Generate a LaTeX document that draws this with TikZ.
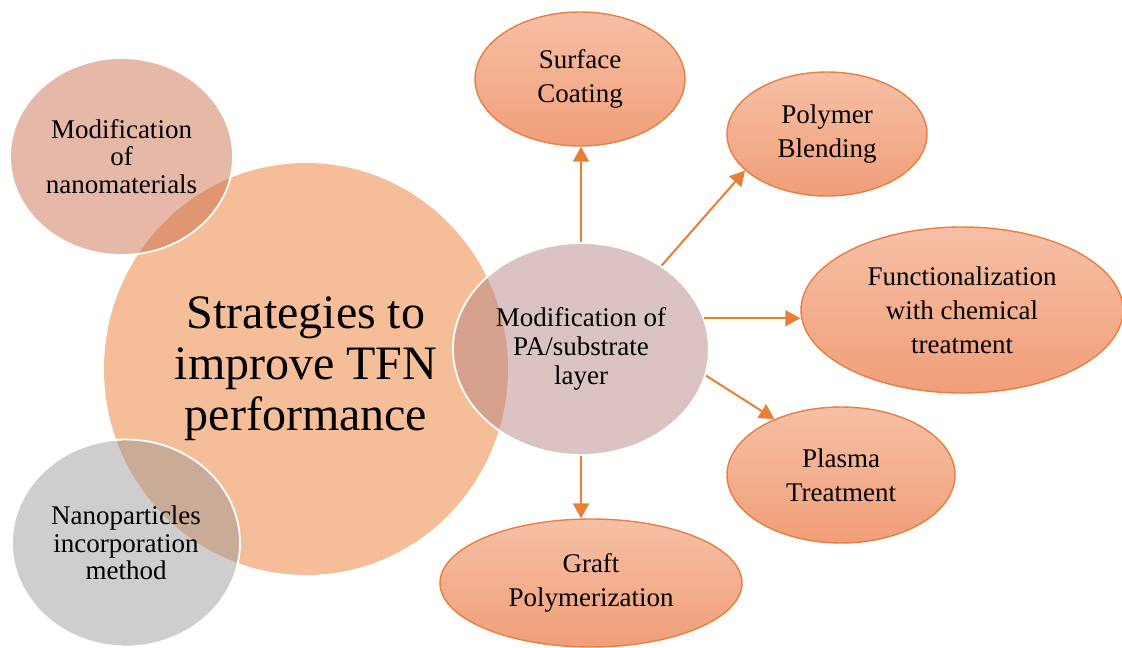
\documentclass[tikz,border=0pt]{standalone}
\usepackage{fontspec}
\setmainfont{Liberation Serif}
\usetikzlibrary{shapes.geometric,arrows.meta}

\definecolor{hubfill}{RGB}{245,190,152}
\definecolor{nanomod}{RGB}{203,107,74}
\definecolor{nanoinc}{RGB}{155,151,151}
\definecolor{layermod}{RGB}{179,131,129}
\definecolor{ovaltop}{RGB}{246,192,166}
\definecolor{ovalbot}{RGB}{241,158,120}
\definecolor{ovalline}{RGB}{232,126,64}
\definecolor{arrowor}{RGB}{234,126,52}

\begin{document}
\begin{tikzpicture}[x=1pt,y=-1pt,
  blob/.style={ellipse, inner sep=0pt, align=center,
    font=\fontsize{27}{27.5}\selectfont},
  bubble/.style={blob, fill opacity=0.48, text opacity=1,
    draw=white, draw opacity=1, line width=1.8pt},
  oval/.style={blob, draw=ovalline, line width=1.4pt,
    top color=ovaltop, bottom color=ovalbot,
    font=\fontsize{27}{34}\selectfont},
  arr/.style={draw=arrowor, line width=2pt,
    -{Triangle[length=15pt,width=16pt]}}]

\useasboundingbox (0,0) rectangle (1122,648);
\fill[white] (0,0) rectangle (1122,648);

% central theme
\node[blob, fill=hubfill, minimum width=404pt, minimum height=412pt,
  font=\fontsize{48}{51}\selectfont] (hub) at (306,369)
  {Strategies to\\improve TFN\\performance};

% the three strategies, laid over the centre
\node[bubble, fill=nanomod, minimum width=223pt, minimum height=197pt]
  (nm) at (121.5,156.5) {Modification\\of\\nanomaterials};
\node[bubble, fill=nanoinc, minimum width=228pt, minimum height=207pt]
  (ni) at (126,543) {Nanoparticles\\incorporation\\method};
\node[bubble, fill=layermod, minimum width=256pt, minimum height=212pt,
  font=\fontsize{27}{29}\selectfont]
  (pa) at (581,349) {Modification of\\PA/substrate\\layer};

% modification routes
\node[oval, minimum width=210pt, minimum height=134pt] (sc) at (580,79)
  {Surface\\Coating};
\node[oval, minimum width=200pt, minimum height=124pt] (pb) at (827,134)
  {Polymer\\Blending};
\node[oval, minimum width=322pt, minimum height=166pt] (fc) at (962,310)
  {Functionalization\\with chemical\\treatment};
\node[oval, minimum width=228pt, minimum height=136pt] (pl) at (841,475)
  {Plasma\\Treatment};
\node[oval, minimum width=302pt, minimum height=128pt] (gp) at (591,583)
  {Graft\\Polymerization};

% connectors
\draw[arr] (pa.north) -- (pa.north |- sc.south);
\draw[arr] (pa.46) -- (pb.204);
\draw[arr] (pa.14) -- (pa.14 -| fc.west);
\draw[arr] (pa.-12) -- (pl.140);
\draw[arr] (pa.south) -- (pa.south |- gp.north);

\end{tikzpicture}
\end{document}
